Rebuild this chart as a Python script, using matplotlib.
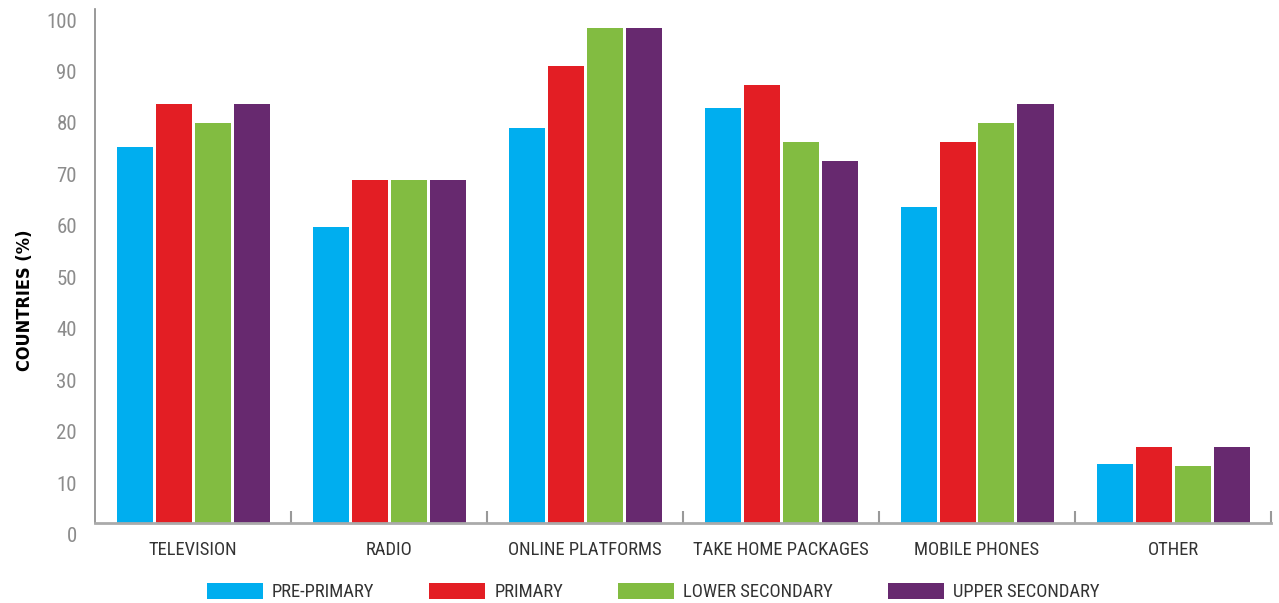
import matplotlib
matplotlib.use('Agg')
import matplotlib.pyplot as plt
import matplotlib.transforms as mtransforms
import numpy as np

categories = ['TELEVISION', 'RADIO', 'ONLINE PLATFORMS', 'TAKE HOME PACKAGES', 'MOBILE PHONES', 'OTHER']
series = ['PRE-PRIMARY', 'PRIMARY', 'LOWER SECONDARY', 'UPPER SECONDARY']
pre_primary = [73.1, 57.6, 76.8, 80.7, 61.4, 11.5]
primary = [81.4, 66.7, 88.8, 85.1, 74.1, 14.8]
lower_secondary = [77.7, 66.7, 96.2, 74.1, 77.7, 11.1]
upper_secondary = [81.4, 66.7, 96.2, 70.4, 81.4, 14.8]
colors = ['#00AEEF', '#E31E24', '#82BC41', '#67296F']

plt.rcParams['font.family'] = ['Roboto Condensed', 'Sofia Sans Condensed', 'DejaVu Sans']

fig = plt.figure(figsize=(12.79, 6.03), dpi=100)
ax = fig.add_axes([95/1279, 80/603, 1176/1279, 514.5/603])

x = np.arange(len(categories))
w = 36/196
step = 39/196
for i, (vals, c, name) in enumerate(zip([pre_primary, primary, lower_secondary, upper_secondary], colors, series)):
    ax.bar(x + (i - 1.5)*step, vals, width=w, color=c, label=name)

ax.set_xlim(-0.5, 5.5)
ax.set_ylim(0, 100)
ax.set_yticks(range(0, 101, 10))
ax.tick_params(axis='y', length=0, labelsize=15, labelcolor='#8c8c8c', pad=13)
# tick labels sit a bit below their gridline in the original
off = mtransforms.ScaledTranslation(0, -11.5/100, fig.dpi_scale_trans)
for lab in ax.get_yticklabels():
    lab.set_transform(lab.get_transform() + off)

ax.set_xticks(x)
ax.set_xticklabels(categories)
ax.set_xticks(np.arange(0.5, 6, 1), minor=True)
ax.tick_params(axis='x', which='major', length=0, labelsize=13.4, labelcolor='#333333', pad=13)
ax.tick_params(axis='x', which='minor', direction='in', length=8.6, width=1.5, color='#999999')

for s in ['top', 'right']:
    ax.spines[s].set_visible(False)
ax.spines['left'].set_color('#888888')
ax.spines['left'].set_linewidth(1.2)
ax.spines['bottom'].set_color('#aaaaaa')
ax.spines['bottom'].set_linewidth(2)

ax.set_ylabel('COUNTRIES (%)', fontsize=13, fontweight='bold', color='black',
              family='DejaVu Sans', fontstretch='condensed')
ax.yaxis.set_label_coords(-0.052, 0.433)

fig.legend(loc='center', bbox_to_anchor=(653/1279, 1 - 592/603), ncol=4, frameon=False,
           fontsize=13.4, handlelength=3.0, handleheight=0.95, handletextpad=0.5,
           columnspacing=2.95, labelcolor='#333333')

fig.savefig('out.png', dpi=100)
